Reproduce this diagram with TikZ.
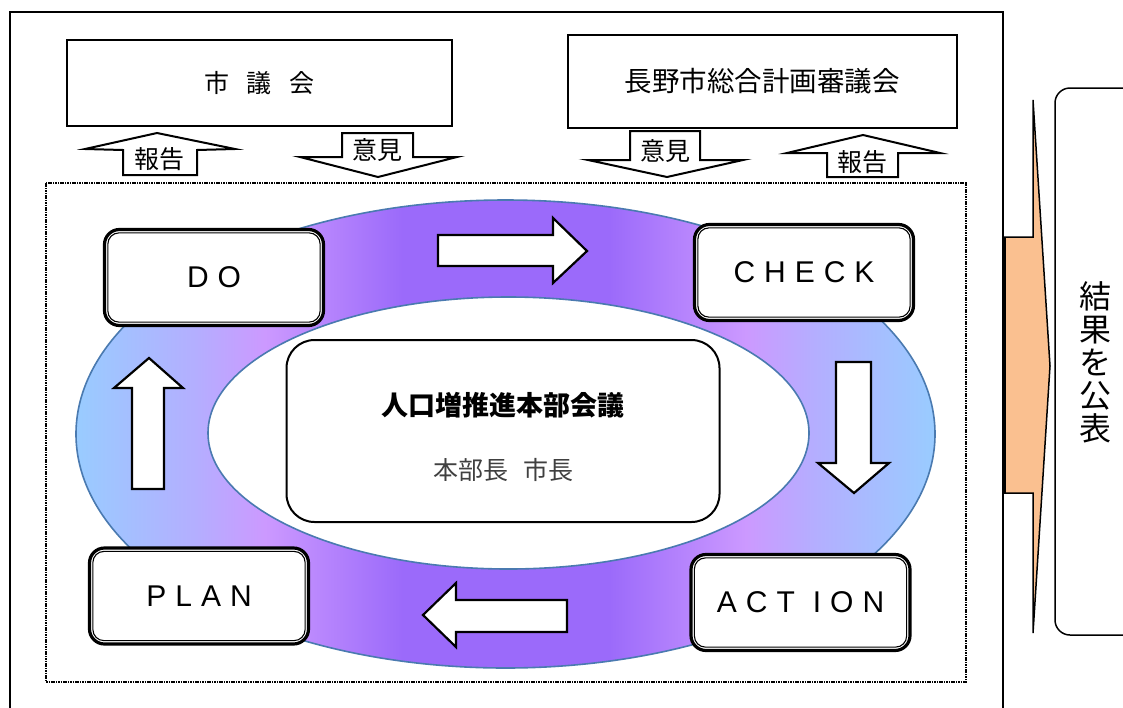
\documentclass[tikz,border=0pt]{standalone}
\usepackage{fontspec}
\setmainfont{Liberation Sans}
\newfontfamily\cjk{Noto Sans CJK JP}
\usetikzlibrary{calc}
\definecolor{rblue}{HTML}{99CCFF}
\definecolor{rlav}{HTML}{B4AEFF}
\definecolor{rpink}{HTML}{CC99FF}
\definecolor{rpurple}{HTML}{9B6AFA}
\definecolor{ringline}{HTML}{4A7AB0}
\definecolor{orangefill}{HTML}{FAC090}
\definecolor{midgray}{HTML}{404040}
\pgfdeclarehorizontalshading{ringshade}{100bp}{color(0bp)=(rblue); color(25bp)=(rblue); color(32bp)=(rlav); color(36bp)=(rpink); color(44bp)=(rpurple); color(56bp)=(rpurple); color(64bp)=(rpink); color(68bp)=(rlav); color(75bp)=(rblue); color(100bp)=(rblue)}
\newcommand{\gp}{\kern9pt}
\tikzset{
  pbox/.style={draw=black, fill=white, line width=3.2, rounded corners=15, minimum width=219, minimum height=96, inner sep=0, font=\fontsize{30}{32}\selectfont},
  thinline/.style={draw=black, line width=1.1, rounded corners=11},
  blk/.style={draw=black, fill=white, line width=2.2, line join=miter},
  topbox/.style={draw=black, fill=white, line width=2, inner sep=0},
  cjklabel/.style={font=\cjk\fontsize{25}{27}\selectfont}
}
\begin{document}
\begin{tikzpicture}[x=1pt,y=-1pt]
\useasboundingbox (0,0) rectangle (1123,707);
% outer frame
\draw[line width=2] (10,720) -- (10,12) -- (1003,12) -- (1003,720);
% top boxes
\node[topbox, minimum width=385, minimum height=86, font=\cjk\fontsize{25}{27}\selectfont] (council) at (259.5,83) {市\hspace{0.7em}議\hspace{0.7em}会};
\node[topbox, minimum width=389, minimum height=93, font=\cjk\fontsize{27.5}{30}\selectfont] (plancouncil) at (762,81.5) {長野市総合計画審議会};
% small arrows
\draw[blk, line width=2] (123,175) -- (123,150) -- (85,149) -- (157,133) -- (235,149) -- (197,150) -- (197,175) -- cycle;
\node[cjklabel] (rep1) at (159,159) {報告};
\draw[blk, line width=2] (342,133) -- (413,133) -- (413,157) -- (457,157) -- (378,177) -- (300,157) -- (342,157) -- cycle;
\node[cjklabel] (op1) at (377,150) {意見};
\draw[blk, line width=2] (630,131) -- (700,131) -- (700,160) -- (743,160) -- (667,177) -- (588,160) -- (630,160) -- cycle;
\node[cjklabel] (op2) at (665,151) {意見};
\draw[blk, line width=2] (827,177) -- (827,153) -- (787,153) -- (863,135) -- (940,153) -- (898,153) -- (898,177) -- cycle;
\node[cjklabel] (rep2) at (862,162) {報告};
% dotted box
\draw[line width=1.8, dash pattern=on 1.6pt off 0.8pt] (46,183) rectangle (966,682);
% ring
\shade[shading=ringshade] (505.5,434) ellipse [x radius=429.5, y radius=234];
\draw[ringline, line width=1.6] (505.5,434) ellipse [x radius=429.5, y radius=234];
\draw[ringline, line width=1.6, fill=white] (508.5,433) ellipse [x radius=300.5, y radius=136];
% centre box
\node[draw=black, fill=white, line width=2, rounded corners=28, minimum width=433, minimum height=182, inner sep=0] (hq) at (503,431) {};
\node[font=\cjk\bfseries\fontsize{27}{30}\selectfont] (hqtitle) at (503,405) {人口増推進本部会議};
\node[font=\cjk\fontsize{25}{27}\selectfont, text=midgray] (hqhead) at (503,470) {本部長\hspace{0.6em}市長};
% PDCA boxes
\node[pbox] (do) at (214,277.5) {D\gp O};
\draw[thinline] ($(do.south west)+(5,-5)$) rectangle ($(do.north east)+(-5,5)$);
\node[pbox] (check) at (804,272.5) {C\gp H\gp E\gp C\gp K};
\draw[thinline] ($(check.south west)+(5,-5)$) rectangle ($(check.north east)+(-5,5)$);
\node[pbox] (plan) at (199,596) {P\gp L\gp A\gp N};
\draw[thinline] ($(plan.south west)+(5,-5)$) rectangle ($(plan.north east)+(-5,5)$);
\node[pbox] (action) at (800.5,602.5) {A\gp C\gp T\kern18pt I\gp O\gp N};
\draw[thinline] ($(action.south west)+(5,-5)$) rectangle ($(action.north east)+(-5,5)$);
% cycle arrows
\draw[blk] (438,235) -- (553,235) -- (553,218) -- (587,251) -- (553,283) -- (553,266) -- (438,266) -- cycle;
\draw[blk] (836,362) -- (871,362) -- (871,463) -- (889,463) -- (854,493) -- (818,463) -- (836,463) -- cycle;
\draw[blk] (567,600) -- (456,600) -- (456,583) -- (423,615) -- (456,647) -- (456,632) -- (567,632) -- cycle;
\draw[blk] (164,489) -- (164,388) -- (183,388) -- (149,358) -- (114,388) -- (132,388) -- (132,489) -- cycle;
% publish arrow
\draw[line width=1.5, fill=orangefill, line join=miter] (1033,100) -- (1050,366) -- (1033,633) -- (1033,493) -- (1003,493) -- (1003,237) -- (1033,237) -- cycle;
\draw[line width=3.5] (1004,237) -- (1004,493);
% publish box
\draw[line width=1.5, rounded corners=15] (1140,88) -- (1055,88) -- (1055,635) -- (1140,635);
\coordinate (pubanchor) at (1095,362);
\node[font=\cjk\fontsize{32}{33}\selectfont, align=center, inner sep=0] (pub) at (pubanchor) {結\\果\\を\\公\\表};
\end{tikzpicture}
\end{document}
